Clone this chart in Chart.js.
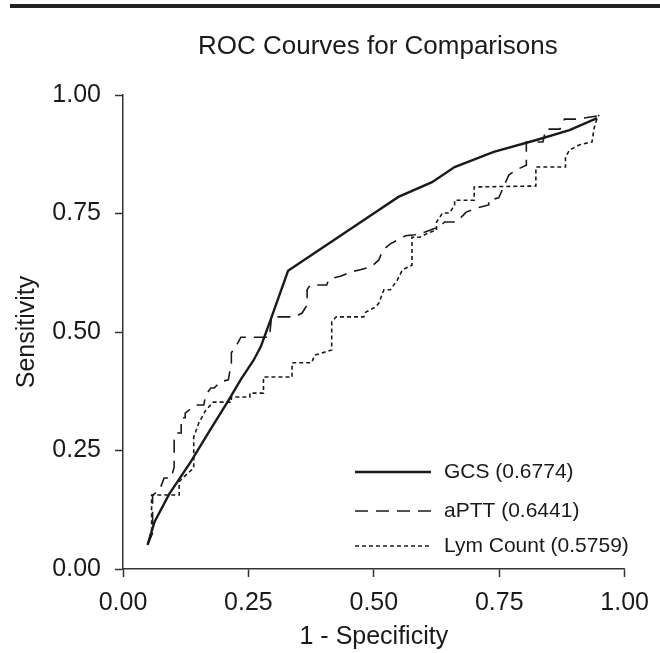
<!DOCTYPE html>
<html>
<head>
<meta charset="utf-8">
<script src="https://cdn.jsdelivr.net/npm/chart.js@4.4.1/dist/chart.umd.min.js"></script>
<style>
  html, body { margin:0; padding:0; background:#fff; }
  #wrap { position:relative; width:660px; height:653px; }
  #rule { position:absolute; left:10px; right:0; top:4px; height:4px; background:#222; }
  canvas { position:absolute; left:0; top:0; }
</style>
</head>
<body>
<div id="wrap">
  <canvas id="roc" width="660" height="653"></canvas>
  <div id="rule"></div>
</div>
<script>
// ROC curves
const TITLE = "ROC Courves for Comparisons";
const X_TITLE = "1 - Specificity";
const Y_TITLE = "Sensitivity";
const TICKS = [0, 0.25, 0.5, 0.75, 1];

const LABELS = ["GCS (0.6774)", "aPTT (0.6441)", "Lym Count (0.5759)"];

const gcsX = [0.049,0.063,0.092,0.135,0.171,0.21,0.235,0.26,0.275,0.294,0.329,0.504,0.549,0.616,0.661,0.739,0.824,0.890,0.945];
const gcsY = [0.051,0.10,0.158,0.226,0.289,0.355,0.40,0.44,0.47,0.525,0.629,0.753,0.785,0.816,0.848,0.880,0.905,0.926,0.951];

const apttX = [0.049,0.059,0.059,0.073,0.082,0.096,0.102,0.102,0.106,0.116,0.116,0.124,0.124,0.145,0.161,0.165,0.175,0.182,0.194,0.210,0.216,0.216,0.229,0.235,0.292,0.296,0.343,0.357,0.367,0.367,0.373,0.406,0.410,0.420,0.435,0.455,0.471,0.494,0.510,0.518,0.533,0.547,0.563,0.582,0.602,0.631,0.641,0.665,0.684,0.706,0.729,0.729,0.749,0.769,0.784,0.804,0.804,0.837,0.843,0.871,0.880,0.902,0.935,0.949];
const apttY = [0.051,0.076,0.156,0.167,0.192,0.192,0.215,0.272,0.287,0.287,0.319,0.319,0.329,0.346,0.346,0.367,0.382,0.382,0.395,0.399,0.435,0.456,0.477,0.489,0.489,0.532,0.532,0.540,0.557,0.589,0.599,0.599,0.610,0.614,0.618,0.627,0.631,0.637,0.652,0.673,0.686,0.694,0.703,0.705,0.711,0.722,0.732,0.732,0.753,0.762,0.768,0.778,0.783,0.831,0.842,0.852,0.901,0.901,0.928,0.928,0.949,0.949,0.954,0.956];

const lymX = [0.049,0.057,0.057,0.057,0.112,0.112,0.125,0.141,0.141,0.151,0.165,0.180,0.216,0.216,0.253,0.253,0.280,0.280,0.337,0.337,0.376,0.382,0.416,0.416,0.425,0.480,0.484,0.504,0.510,0.520,0.533,0.547,0.557,0.576,0.576,0.592,0.608,0.625,0.625,0.637,0.651,0.661,0.661,0.700,0.700,0.823,0.823,0.882,0.882,0.890,0.910,0.935,0.939,0.945,0.949];
const lymY = [0.051,0.082,0.139,0.156,0.156,0.184,0.198,0.213,0.278,0.308,0.335,0.352,0.352,0.363,0.363,0.371,0.371,0.405,0.405,0.435,0.435,0.451,0.462,0.521,0.532,0.532,0.542,0.553,0.561,0.589,0.589,0.610,0.631,0.641,0.700,0.700,0.709,0.715,0.732,0.751,0.751,0.768,0.778,0.778,0.806,0.808,0.848,0.848,0.869,0.884,0.895,0.901,0.930,0.951,0.958];

const INK = "#1a1a1a";
const FONT = "'Liberation Sans', Arial, sans-serif";

function pts(xs, ys){ return xs.map((x,i) => ({x, y: ys[i]})); }

const DASHES = [[], [13, 8], [4, 3]];
const WIDTHS = [2.4, 1.6, 1.6];

// titolo + legenda dentro l'area del grafico
const decor = {
  id: "decor",
  afterDraw(chart){
    const {ctx, chartArea} = chart;
    ctx.save();
    ctx.fillStyle = INK;
    ctx.font = `26px ${FONT}`;
    ctx.textAlign = "center";
    ctx.textBaseline = "middle";
    ctx.fillText(TITLE, (chartArea.left + chartArea.right)/2 + 4, 47);

    const rows = [472, 511, 546];
    ctx.font = `21px ${FONT}`;
    ctx.textAlign = "left";
    LABELS.forEach((lab, i) => {
      ctx.beginPath();
      ctx.setLineDash(DASHES[i]);
      ctx.lineWidth = WIDTHS[i];
      ctx.strokeStyle = INK;
      ctx.moveTo(355, rows[i]);
      ctx.lineTo(431, rows[i]);
      ctx.stroke();
      ctx.setLineDash([]);
      ctx.fillText(lab, 444, rows[i]);
    });
    ctx.restore();
  }
};

const axisCommon = {
  type: "linear", min: 0, max: 1,
  grid: { display: true, drawOnChartArea: false, drawTicks: true, tickLength: 8, tickWidth: 1.5, tickColor: "#333" },
  border: { display: true, color: "#333", width: 1.5 },
  afterBuildTicks: (s) => { s.ticks = TICKS.map(v => ({ value: v })); }
};

new Chart(document.getElementById("roc").getContext("2d"), {
  type: "line",
  data: {
    datasets: [
      { label: LABELS[0], data: pts(gcsX, gcsY), borderColor: INK, borderWidth: WIDTHS[0], borderDash: DASHES[0], pointRadius: 0, tension: 0, fill: false },
      { label: LABELS[1], data: pts(apttX, apttY), borderColor: INK, borderWidth: WIDTHS[1], borderDash: DASHES[1], pointRadius: 0, tension: 0, fill: false },
      { label: LABELS[2], data: pts(lymX, lymY), borderColor: INK, borderWidth: WIDTHS[2], borderDash: DASHES[2], pointRadius: 0, tension: 0, fill: false }
    ]
  },
  options: {
    responsive: false,
    animation: false,
    layout: { padding: { top: 95, right: 27, left: 0, bottom: 0 } },
    plugins: { legend: { display: false }, tooltip: { enabled: false }, title: { display: false } },
    scales: {
      x: Object.assign({}, axisCommon, {
        ticks: { color: INK, font: { family: FONT, size: 25 }, padding: 11, maxRotation: 0, callback: v => Number(v).toFixed(2) },
        title: { display: true, text: X_TITLE, color: INK, font: { family: FONT, size: 25 }, padding: { top: 0, bottom: 1 } },
        afterFit: (s) => { s.height = 84; }
      }),
      y: Object.assign({}, axisCommon, {
        ticks: { color: INK, font: { family: FONT, size: 25 }, padding: 14, callback: v => Number(v).toFixed(2) },
        title: { display: true, text: Y_TITLE, color: INK, font: { family: FONT, size: 25 }, padding: { top: 12, bottom: 0 } },
        afterFit: (s) => { s.width = 123; }
      })
    }
  },
  plugins: [decor]
});
</script>
</body>
</html>
